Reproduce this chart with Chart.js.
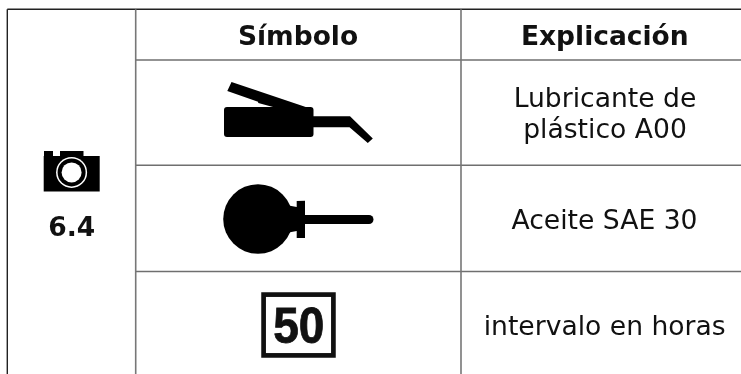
<!DOCTYPE html>
<html>
<head>
<meta charset="utf-8">
<script src="https://cdn.jsdelivr.net/npm/chart.js@4"></script>
<style>
  html, body { margin: 0; padding: 0; background: #fff; }
  canvas { display: block; }
</style>
</head>
<body>
<canvas id="chart" width="741" height="374"></canvas>
<script>
// table content
const headers = ['Símbolo', 'Explicación'];
const explanations = [['Lubricante de', 'plástico A00'], ['Aceite SAE 30'], ['intervalo en horas']];
const sectionLabel = '6.4';
const intervalHours = '50';

// table rules, in picture coordinates
const columnEdges = [135.7, 461];
const rowEdges = [60, 165.3, 271.5];
const frameLeft = 7.3;
const frameTop = 9.3;

const rule = (x1, y1, x2, y2, color, width) => ({
  data: [{ x: x1, y: y1 }, { x: x2, y: y2 }],
  showLine: true,
  pointRadius: 0,
  borderColor: color,
  borderWidth: width,
});

const rules = [
  ...columnEdges.map(x => rule(x, frameTop, x, 374, '#777', 1.6)),
  ...rowEdges.map(y => rule(columnEdges[0], y, 741, y, '#6f6f6f', 1.6)),
  rule(frameLeft, frameTop, frameLeft, 374, '#222', 1.4),
  rule(frameLeft, frameTop, 741, frameTop, '#222', 1.4),
];

// symbols and text are painted over the chart area through the scales
const tablePainter = {
  id: 'tablePainter',
  afterDatasetsDraw(chart) {
    const { ctx, scales } = chart;
    const X = v => scales.x.getPixelForValue(v);
    const Y = v => scales.y.getPixelForValue(v);

    const poly = pts => {
      ctx.beginPath();
      pts.forEach((p, i) => (i ? ctx.lineTo(X(p[0]), Y(p[1])) : ctx.moveTo(X(p[0]), Y(p[1]))));
      ctx.closePath();
      ctx.fill();
    };
    const round = (x, y, w, h, r) => {
      ctx.beginPath();
      ctx.roundRect(X(x), Y(y), w, h, r);
      ctx.fill();
    };
    const disc = (x, y, r, color) => {
      ctx.fillStyle = color;
      ctx.beginPath();
      ctx.arc(X(x), Y(y), r, 0, Math.PI * 2);
      ctx.fill();
    };
    const text = (str, x, y, font) => {
      ctx.font = font;
      ctx.fillText(str, X(x), Y(y));
    };

    ctx.save();

    // camera
    ctx.fillStyle = '#000';
    round(43.7, 156, 56, 35.5, 0);
    round(44, 151, 9, 5, 0);
    round(60, 151, 23.5, 5, 0);
    disc(71.6, 172.4, 15.5, '#fff');
    disc(71.6, 172.4, 14, '#000');
    disc(71.6, 172.4, 10, '#fff');

    // grease gun
    ctx.fillStyle = '#000';
    round(224, 107, 89.5, 30, 3);
    poly([[231.5, 82], [227.3, 91], [258, 101.7], [258.3, 103], [276.7, 108], [313, 110], [305, 106.8]]);
    poly([[312, 116.2], [350, 116.2], [372.8, 138.4], [367.8, 143], [349.5, 127.3], [312, 127.3]]);

    // oil bulb
    disc(258, 219, 34.8, '#000');
    ctx.fillStyle = '#000';
    poly([[286, 205], [296.7, 207], [296.7, 201], [305, 200.8], [305, 238], [296.7, 238], [296.7, 231], [286, 233]]);
    round(300, 215, 73.5, 9, 4.5);

    // interval box
    ctx.strokeStyle = '#111';
    ctx.lineWidth = 4.7;
    ctx.strokeRect(X(263.6), Y(294.6), 69.8, 60.8);

    ctx.fillStyle = '#111';
    ctx.textAlign = 'center';
    ctx.textBaseline = 'alphabetic';

    // the digits in the sign are narrower and heavier than Liberation bold
    ctx.save();
    ctx.translate(X(298.8), Y(343));
    ctx.scale(0.92, 1);
    ctx.font = 'bold 50px "Liberation Sans"';
    ctx.lineWidth = 0.8;
    ctx.fillText(intervalHours, 0, 0);
    ctx.strokeText(intervalHours, 0, 0);
    ctx.restore();

    const bold = 'bold 26.5px "DejaVu Sans"';
    const regular = '26.6px "DejaVu Sans"';
    text(sectionLabel, 71.7, 236, bold);
    text(headers[0], 298, 45, bold);
    text(headers[1], 604.8, 45, bold);
    text(explanations[0][0], 605, 106.7, regular);
    text(explanations[0][1], 605, 138, regular);
    text(explanations[1][0], 604.5, 229.3, regular);
    text(explanations[2][0], 604.7, 335, regular);

    ctx.restore();
  },
};

new Chart(document.getElementById('chart'), {
  type: 'scatter',
  data: { datasets: rules },
  plugins: [tablePainter],
  options: {
    responsive: false,
    animation: false,
    layout: { padding: 0 },
    plugins: { legend: { display: false }, tooltip: { enabled: false } },
    scales: {
      x: { type: 'linear', display: false, min: 0, max: 741 },
      y: { type: 'linear', display: false, min: 0, max: 374, reverse: true },
    },
  },
});
</script>
</body>
</html>
